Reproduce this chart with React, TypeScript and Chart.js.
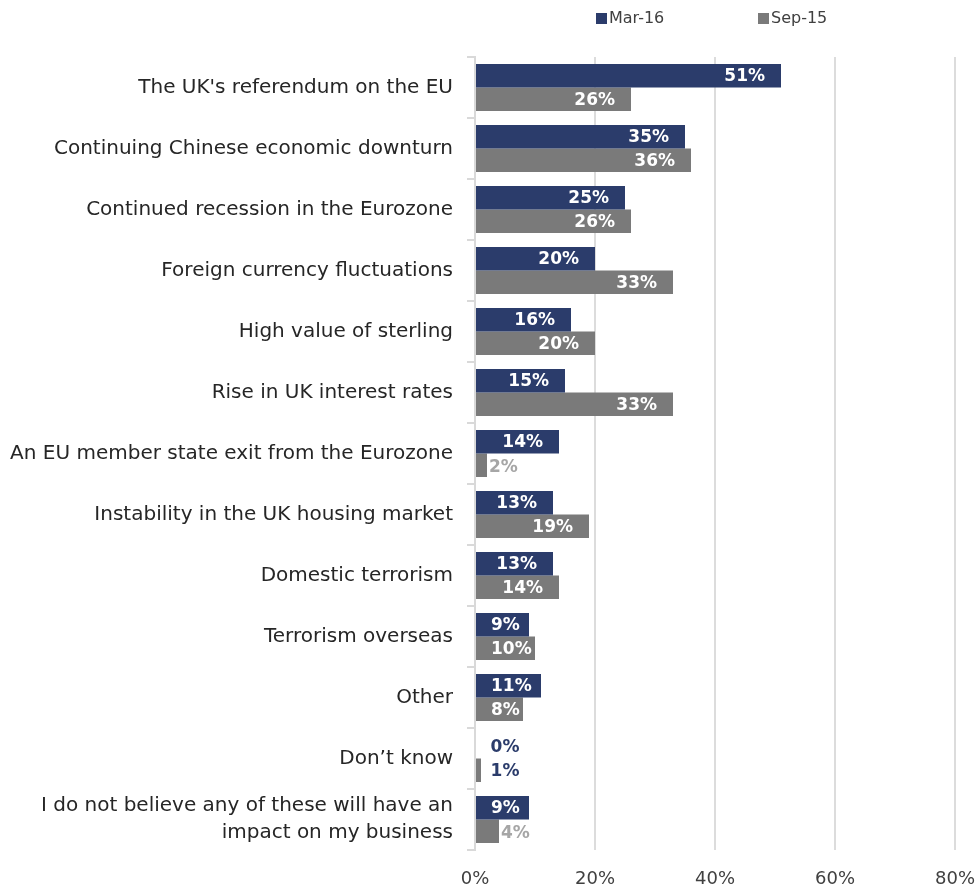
import React, { useEffect, useRef } from "react";
import { Chart, registerables } from "chart.js";

Chart.register(...registerables);

const categories: (string | string[])[] = [
  "The UK's referendum on the EU",
  "Continuing Chinese economic downturn",
  "Continued recession in the Eurozone",
  "Foreign currency fluctuations",
  "High value of sterling",
  "Rise in UK interest rates",
  "An EU member state exit from the Eurozone",
  "Instability in the UK housing market",
  "Domestic terrorism",
  "Terrorism overseas",
  "Other",
  "Don\u2019t know",
  ["I do not believe any of these will have an", "impact on my business"],
];

const mar16 = [51, 35, 25, 20, 16, 15, 14, 13, 13, 9, 11, 0, 9];
const sep15 = [26, 36, 26, 33, 20, 33, 2, 19, 14, 10, 8, 1, 4];

const seriesNames = ["Mar-16", "Sep-15"];
const xTicks = [0, 20, 40, 60, 80];

const NAVY = "#2b3c6b";
const GREY = "#7a7a7a";
const FONT = "'DejaVu Sans', sans-serif";

const legendPlugin = {
  id: "customLegend",
  afterDraw(chart: any) {
    const { ctx, chartArea } = chart;
    const cx = (chartArea.left + chartArea.right) / 2;
    const items = [
      { label: seriesNames[0], color: NAVY, x: cx - 119 },
      { label: seriesNames[1], color: GREY, x: cx + 43 },
    ];
    ctx.save();
    ctx.font = `16px ${FONT}`;
    ctx.textBaseline = "middle";
    ctx.textAlign = "left";
    items.forEach((it) => {
      ctx.fillStyle = it.color;
      ctx.fillRect(it.x, 13, 11, 11);
      ctx.fillStyle = "#404040";
      ctx.fillText(it.label, it.x + 13, 19);
    });
    ctx.restore();
  },
};

const dataLabelPlugin = {
  id: "dataLabels",
  afterDatasetsDraw(chart: any) {
    const { ctx } = chart;
    const xScale = chart.scales.x;
    ctx.save();
    ctx.font = `bold 17px ${FONT}`;
    ctx.textBaseline = "middle";
    chart.data.datasets.forEach((ds: any, di: number) => {
      const meta = chart.getDatasetMeta(di);
      meta.data.forEach((el: any, i: number) => {
        const v = ds.data[i] as number;
        const txt = `${v}%`;
        if (v >= 8) {
          const w = ctx.measureText(txt).width;
          const left = Math.max(el.x - 16 - w, el.base + 15);
          ctx.fillStyle = "#ffffff";
          ctx.textAlign = "left";
          ctx.fillText(txt, left, el.y + 1);
        } else if (v >= 2) {
          ctx.fillStyle = "#a6a6a6";
          ctx.textAlign = "left";
          ctx.fillText(txt, el.x + 2, el.y + 2);
        } else {
          ctx.fillStyle = NAVY;
          ctx.textAlign = "center";
          ctx.fillText(txt, xScale.getPixelForValue(5), el.y + 1);
        }
      });
    });
    ctx.restore();
  },
};

export default function App() {
  const ref = useRef<HTMLCanvasElement | null>(null);
  useEffect(() => {
    if (!ref.current) return;
    const chart = new Chart(ref.current, {
      type: "bar",
      data: {
        labels: categories,
        datasets: [
          {
            label: seriesNames[0],
            data: mar16,
            backgroundColor: NAVY,
            categoryPercentage: 0.77,
            barPercentage: 1,
          },
          {
            label: seriesNames[1],
            data: sep15,
            backgroundColor: GREY,
            categoryPercentage: 0.77,
            barPercentage: 1,
          },
        ],
      },
      options: {
        indexAxis: "y",
        animation: false,
        responsive: true,
        maintainAspectRatio: false,
        layout: { padding: { left: 0, right: 24, top: 57, bottom: 0 } },
        plugins: {
          legend: { display: false },
          tooltip: { enabled: false },
        },
        scales: {
          x: {
            min: 0,
            max: 80,
            afterBuildTicks: (scale: any) => {
              scale.ticks = xTicks.map((v) => ({ value: v }));
            },
            afterFit: (scale: any) => {
              scale.height = 41;
              scale.paddingRight = 0;
              scale.paddingLeft = 0;
            },
            ticks: {
              callback: (v: any) => `${v}%`,
              font: { family: FONT, size: 18 },
              color: "#404040",
              padding: 19,
              maxRotation: 0,
            },
            grid: { color: "#dcdcdc", lineWidth: 2, drawTicks: false },
            border: { display: false },
          },
          y: {
            afterFit: (scale: any) => {
              scale.width = 475;
            },
            ticks: {
              font: { family: FONT, size: 20, lineHeight: 1.35 },
              color: "#262626",
              padding: 14,
              autoSkip: false,
            },
            grid: {
              drawOnChartArea: false,
              drawTicks: true,
              tickLength: 8,
              color: "#d9d9d9",
              lineWidth: 2,
            },
            border: { display: true, color: "#d9d9d9", width: 2 },
          },
        },
      },
      plugins: [legendPlugin, dataLabelPlugin],
    } as any);
    return () => chart.destroy();
  }, []);
  return (
    <div style={{ position: "absolute", left: 0, top: 0, width: 979, height: 891 }}>
      <canvas ref={ref} />
    </div>
  );
}
